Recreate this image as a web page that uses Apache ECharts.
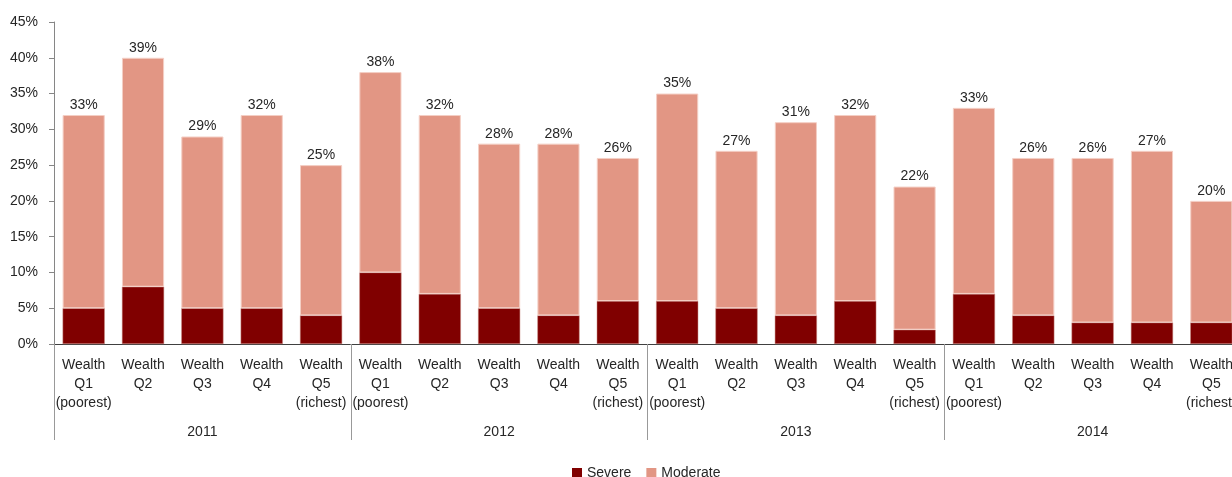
<!DOCTYPE html>
<html>
<head>
<meta charset="utf-8">
<script src="https://cdn.jsdelivr.net/npm/echarts@6/dist/echarts.min.js"></script>
<style>
  html, body { margin: 0; padding: 0; background: #fff; overflow: hidden; }
  #chart { width: 1241px; height: 477px; }
</style>
</head>
<body>
<div id="chart"></div>
<script>
// data
var years = ['2011', '2012', '2013', '2014'];
var quintiles = ['Wealth\nQ1\n(poorest)', 'Wealth\nQ2', 'Wealth\nQ3', 'Wealth\nQ4', 'Wealth\nQ5\n(richest)'];
var severe = [5, 8, 5, 5, 4, 10, 7, 5, 4, 6, 6, 5, 4, 6, 2, 7, 4, 3, 3, 3];
var total = [32, 40, 29, 32, 25, 38, 32, 28, 28, 26, 35, 27, 31, 32, 22, 33, 26, 26, 27, 20];
var topLabels = [33, 39, 29, 32, 25, 38, 32, 28, 28, 26, 35, 27, 31, 32, 22, 33, 26, 26, 27, 20];
var yTicks = [0, 45, 5]; // min, max, interval

var categories = [];
years.forEach(function () {
  quintiles.forEach(function (q) { categories.push(q); });
});
var moderate = total.map(function (t, i) { return t - severe[i]; });

var font = 'Liberation Sans';
// chart is wider than the window: the last bar is cut off like in the original
var myChart = echarts.init(document.getElementById('chart'));
var option = {
  animation: false,
  textStyle: { fontFamily: font },
  grid: { left: 54, top: 22, right: 0, height: 322 },
  legend: {
    data: ['Severe', 'Moderate'],
    left: 567,
    top: 461,
    itemWidth: 10,
    itemHeight: 10,
    itemGap: 15,
    icon: 'rect',
    itemStyle: { borderWidth: 0 },
    textStyle: { fontSize: 14, color: '#262626', fontFamily: font }
  },
  xAxis: [
    {
      type: 'category',
      data: categories,
      axisLine: { lineStyle: { color: '#404040', width: 1 } },
      axisTick: { show: false },
      axisLabel: {
        interval: 0,
        margin: 12,
        fontSize: 14,
        lineHeight: 19,
        color: '#262626'
      }
    },
    {
      type: 'category',
      data: years,
      position: 'bottom',
      axisLine: { show: false },
      axisTick: { show: true, length: 96, lineStyle: { color: '#999', width: 1 } },
      axisLabel: { margin: 81, fontSize: 14, color: '#262626' }
    }
  ],
  yAxis: {
    type: 'value',
    min: yTicks[0],
    max: yTicks[1],
    interval: yTicks[2],
    axisLine: { show: true, lineStyle: { color: '#868686' } },
    axisTick: { show: true, length: 5, lineStyle: { color: '#868686' } },
    splitLine: { show: false },
    axisLabel: { formatter: '{value}%', margin: 16, fontSize: 14, color: '#262626' }
  },
  series: [
    {
      name: 'Severe',
      type: 'bar',
      stack: 'all',
      barWidth: '71%',
      itemStyle: { color: '#800000', borderColor: '#c98a80', borderWidth: 0.5 },
      data: severe
    },
    {
      name: 'Moderate',
      type: 'bar',
      stack: 'all',
      barWidth: '71%',
      itemStyle: { color: '#E29684', borderColor: '#f4cfc5', borderWidth: 1 },
      label: {
        show: true,
        position: 'top',
        distance: 3,
        fontSize: 14,
        color: '#262626',
        formatter: function (p) { return topLabels[p.dataIndex] + '%'; }
      },
      data: moderate
    }
  ]
};
myChart.setOption(option);
</script>
</body>
</html>
